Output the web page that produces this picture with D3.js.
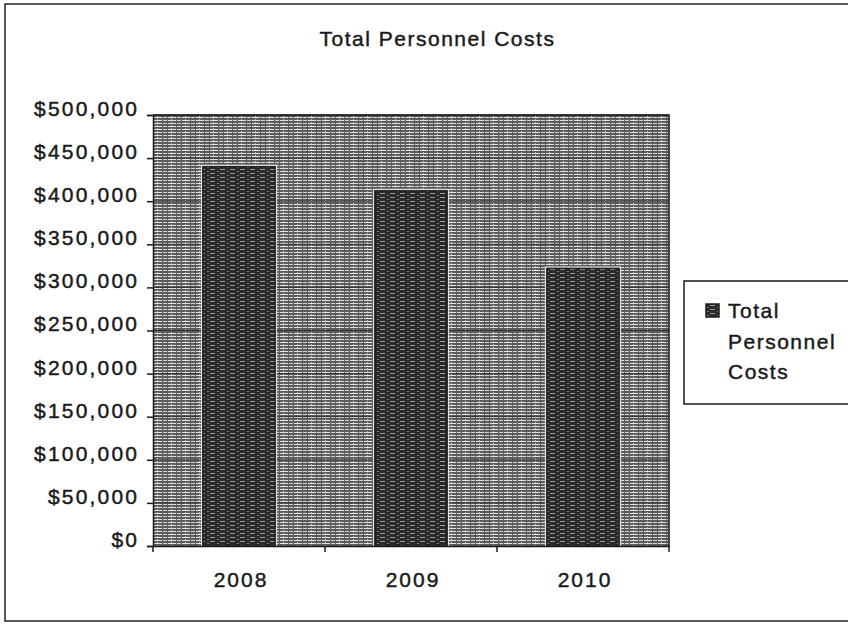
<!DOCTYPE html>
<html>
<head>
<meta charset="utf-8">
<script src="https://cdn.jsdelivr.net/npm/d3@7"></script>
<style>
  html, body { margin: 0; padding: 0; background: #fff; }
  svg { display: block; }
  text { font-family: "Liberation Sans", Arial, sans-serif; fill: #1a1a1a; stroke: #1a1a1a; stroke-width: 0.45px; }
</style>
</head>
<body>
<script>
// ---- data ----
const categories = ["2008", "2009", "2010"];
const seriesName = "Total Personnel Costs";
const values = [440000, 412000, 322000];
const yTicks = [0, 50000, 100000, 150000, 200000, 250000, 300000, 350000, 400000, 450000, 500000];
const titleText = "Total Personnel Costs";
const legendLines = ["Total", "Personnel", "Costs"];

// ---- layout ----
const W = 848, H = 624;
const plot = { left: 153, right: 669, top: 115, bottom: 546 };

const svg = d3.select("body").append("svg").attr("width", W).attr("height", H);
const defs = svg.append("defs");

// textured fills (decorative, deterministic)
const pBg = defs.append("pattern").attr("id", "bgTex").attr("patternUnits", "userSpaceOnUse")
  .attr("width", 14).attr("height", 3);
pBg.append("rect").attr("width", 14).attr("height", 3).attr("fill", "#5c5c5c");
pBg.append("rect").attr("y", 0).attr("width", 8).attr("height", 1).attr("fill", "#e2e2e2");
pBg.append("rect").attr("x", 9).attr("y", 0).attr("width", 4).attr("height", 1).attr("fill", "#d0d0d0");
pBg.append("rect").attr("x", 3).attr("y", 2).attr("width", 1).attr("height", 1).attr("fill", "#bcbcbc");

const pBar = defs.append("pattern").attr("id", "barTex").attr("patternUnits", "userSpaceOnUse")
  .attr("width", 10).attr("height", 4);
pBar.append("rect").attr("width", 10).attr("height", 4).attr("fill", "#2a2a2a");
pBar.append("rect").attr("y", 1).attr("width", 5).attr("height", 1).attr("fill", "#9a9a9a");
pBar.append("rect").attr("x", 7).attr("y", 3).attr("width", 2).attr("height", 1).attr("fill", "#7a7a7a");

// outer frame
svg.append("rect").attr("x", 5).attr("y", 4).attr("width", 900).attr("height", 617)
  .attr("fill", "#fff").attr("stroke", "#222").attr("stroke-width", 1.5);

// scales
const x = d3.scaleBand().domain(categories).range([plot.left, plot.right])
  .paddingInner(0.58).paddingOuter(0.29);
const y = d3.scaleLinear().domain([0, 500000]).range([plot.bottom, plot.top]);

// plot area background
svg.append("rect").attr("x", plot.left).attr("y", plot.top)
  .attr("width", plot.right - plot.left).attr("height", plot.bottom - plot.top)
  .attr("fill", "url(#bgTex)");

// gridlines
svg.append("g").selectAll("line").data(yTicks.filter(d => d > 0)).join("line")
  .attr("x1", plot.left).attr("x2", plot.right)
  .attr("y1", d => y(d)).attr("y2", d => y(d))
  .attr("stroke", "#333").attr("stroke-width", 1);

// plot border (top & right)
svg.append("path")
  .attr("d", `M${plot.left},${plot.top}H${plot.right}V${plot.bottom}`)
  .attr("fill", "none").attr("stroke", "#1a1a1a").attr("stroke-width", 1.5);

// bars: light outline + dark edge
const bars = svg.append("g").selectAll("g").data(values).join("g");
bars.append("rect")
  .attr("x", (d, i) => x(categories[i]) - 2)
  .attr("y", d => y(d) - 2)
  .attr("width", x.bandwidth() + 4)
  .attr("height", d => y(0) - y(d) + 2)
  .attr("fill", "#e0e0e0");
bars.append("rect")
  .attr("x", (d, i) => x(categories[i]))
  .attr("y", d => y(d))
  .attr("width", x.bandwidth())
  .attr("height", d => y(0) - y(d))
  .attr("fill", "url(#barTex)")
  .attr("stroke", "#1e1e1e").attr("stroke-width", 1.5);

// y axis
const yAxis = d3.axisLeft(y).tickValues(yTicks).tickSize(6).tickPadding(10)
  .tickFormat(d => "$" + d3.format(",")(d));
const gy = svg.append("g").attr("transform", `translate(${plot.left},0)`).call(yAxis);
gy.select(".domain").attr("stroke", "#1a1a1a").attr("stroke-width", 1.5);
gy.selectAll(".tick line").attr("stroke", "#1a1a1a").attr("stroke-width", 1.5);
gy.selectAll(".tick text")
  .attr("x", -16 + 2.2)
  .attr("dy", "0.02em")
  .style("font-family", "'Liberation Sans', Arial, sans-serif")
  .style("font-size", "21px")
  .style("letter-spacing", "2.2px")
  .attr("fill", "#1a1a1a");

// x axis
const xAxis = d3.axisBottom(x).tickSize(0).tickPadding(0);
const gx = svg.append("g").attr("transform", `translate(0,${plot.bottom})`).call(xAxis);
gx.select(".domain").attr("stroke", "#1a1a1a").attr("stroke-width", 1.5);
gx.selectAll(".tick text")
  .attr("y", 41)
  .attr("dy", 0)
  .attr("dx", 2)
  .style("font-family", "'Liberation Sans', Arial, sans-serif")
  .style("font-size", "21px")
  .style("letter-spacing", "2.0px")
  .attr("fill", "#1a1a1a");
// category boundary ticks
const bounds = categories.map(c => x(c) - x.step() * x.paddingInner() / 2).concat([plot.right]);
bounds[0] = plot.left;
gx.selectAll(".bound").data(bounds).join("line").attr("class", "bound")
  .attr("x1", d => d).attr("x2", d => d).attr("y1", 0).attr("y2", 6)
  .attr("stroke", "#1a1a1a").attr("stroke-width", 1.5);

// title
svg.append("text").attr("x", 437.5).attr("y", 46).attr("text-anchor", "middle")
  .style("font-size", "21px").style("letter-spacing", "1.5px")
  .text(titleText);

// legend
const lg = svg.append("g");
lg.append("rect").attr("x", 684).attr("y", 281).attr("width", 300).attr("height", 123)
  .attr("fill", "#fff").attr("stroke", "#1a1a1a").attr("stroke-width", 1.5);
lg.append("rect").attr("x", 706).attr("y", 304).attr("width", 13).attr("height", 13)
  .attr("fill", "url(#barTex)").attr("stroke", "#1e1e1e").attr("stroke-width", 1.5);
lg.selectAll("text.leg").data(legendLines).join("text").attr("class", "leg")
  .attr("x", 728).attr("y", (d, i) => 318 + i * 30.5)
  .style("font-size", "21px").style("letter-spacing", "1.5px")
  .text(d => d);
</script>
</body>
</html>
